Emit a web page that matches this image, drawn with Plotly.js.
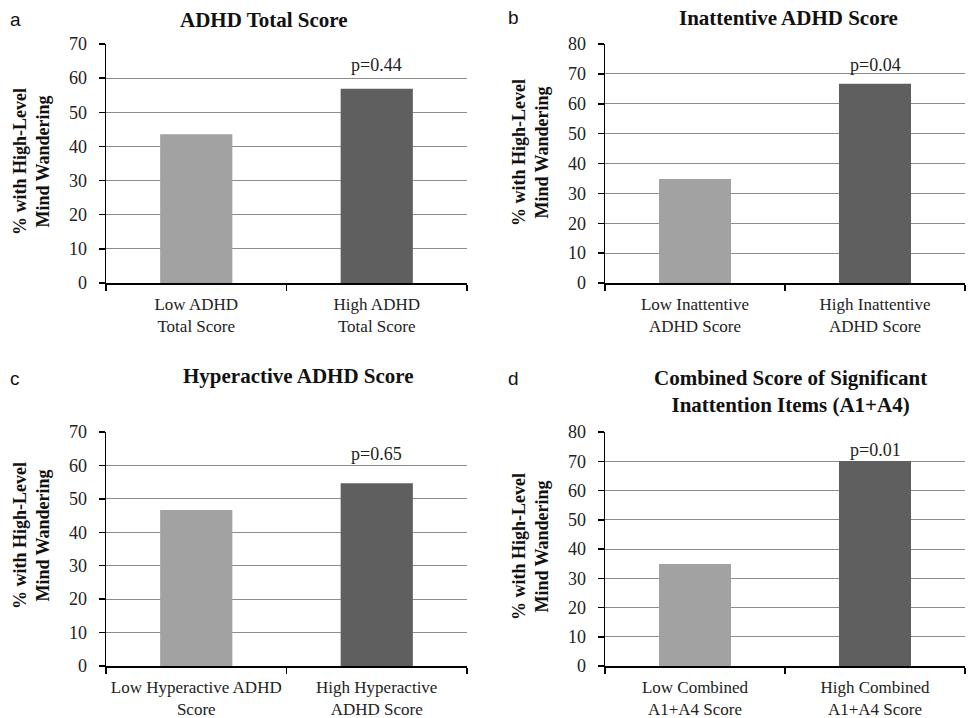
<!DOCTYPE html>
<html>
<head>
<meta charset="utf-8">
<script src="https://cdn.plot.ly/plotly-3.0.1.min.js"></script>
<style>html,body{margin:0;padding:0;background:#fff;}#chart{width:971px;height:718px;}</style>
</head>
<body>
<div id="chart"></div>
<script>
// ---- Data ----
const panelLetters = ["a", "b", "c", "d"];
const panelTitles = [
  "ADHD Total Score",
  "Inattentive ADHD Score",
  "Hyperactive ADHD Score",
  "Combined Score of Significant<br>Inattention Items (A1+A4)"
];
const categoriesA = ["Low ADHD<br>Total Score", "High ADHD<br>Total Score"];
const categoriesB = ["Low Inattentive<br>ADHD Score", "High Inattentive<br>ADHD Score"];
const categoriesC = ["Low Hyperactive ADHD<br>Score", "High Hyperactive<br>ADHD Score"];
const categoriesD = ["Low Combined<br>A1+A4 Score", "High Combined<br>A1+A4 Score"];
const valuesA = [43.6, 56.9];
const valuesB = [34.8, 66.7];
const valuesC = [46.7, 54.7];
const valuesD = [34.9, 70.1];
const pValues = ["p=0.44", "p=0.04", "p=0.65", "p=0.01"];
const pLabelY = [63.9, 73.0, 63.5, 73.9];
const yMax = [70, 80, 70, 80];
const yTitle = "% with High-Level<br>Mind Wandering";

// ---- Layout geometry (pixels) ----
const W = 971, H = 718;
const px = v => v / W;
const py = v => 1 - v / H;
const barColors = ["#a2a2a2", "#5f5f5f"];
const serif = "Liberation Serif, Times New Roman, serif";
const sans = "Liberation Sans, Arial, sans-serif";

const cats = [categoriesA, categoriesB, categoriesC, categoriesD];
const vals = [valuesA, valuesB, valuesC, valuesD];
const boxes = [
  {x0: 106, x1: 467, y0: 44, y1: 283},
  {x0: 605, x1: 965, y0: 44, y1: 283},
  {x0: 106, x1: 467, y0: 432, y1: 666},
  {x0: 605, x1: 965, y0: 432, y1: 666}
];
const titlePos = [{x: 264, y: 20}, {x: 788, y: 18}, {x: 298, y: 376}, {x: 790, y: 391}];
const letterPos = [{x: 15, y: 19}, {x: 513, y: 18}, {x: 15, y: 378}, {x: 513, y: 378}];
const yTitlePos = [{x: 31, y: 162}, {x: 530, y: 153}, {x: 31, y: 536}, {x: 530, y: 547}];

const traces = [];
const layout = {
  width: W, height: H,
  margin: {l: 0, r: 0, t: 0, b: 0},
  paper_bgcolor: "#fff", plot_bgcolor: "#fff",
  showlegend: false,
  annotations: []
};

for (let i = 0; i < 4; i++) {
  const suf = i === 0 ? "" : String(i + 1);
  const xa = "x" + suf, ya = "y" + suf;
  traces.push({
    type: "bar",
    x: cats[i], y: vals[i],
    xaxis: xa, yaxis: ya,
    width: 0.4,
    marker: {color: barColors, line: {width: 0}},
    hoverinfo: "skip"
  });
  const b = boxes[i];
  layout["xaxis" + suf] = {
    domain: [px(b.x0), px(b.x1)],
    anchor: ya,
    type: "category",
    range: [-0.5, 1.5],
    showline: true, linecolor: "#000", linewidth: 1.5,
    ticks: "outside", tickson: "boundaries", ticklen: 6, tickcolor: "#000", tickwidth: 1.5,
    ticklabelstandoff: 5,
    showgrid: false, zeroline: false,
    tickfont: {family: serif, size: 17, color: "#222"},
    fixedrange: true
  };
  layout["yaxis" + suf] = {
    domain: [py(b.y1), py(b.y0)],
    anchor: xa,
    range: [0, yMax[i]],
    dtick: 10, tick0: 0,
    showline: true, linecolor: "#000", linewidth: 1.5,
    ticks: "outside", ticklen: 6, tickcolor: "#000", tickwidth: 1.5,
    ticklabelstandoff: 8,
    showgrid: true, gridcolor: "#8c8c8c", gridwidth: 1,
    zeroline: false,
    tickfont: {family: serif, size: 18, color: "#222"},
    fixedrange: true
  };
  // p-value label
  layout.annotations.push({
    xref: xa, yref: ya, x: cats[i][1], y: pLabelY[i],
    text: pValues[i], showarrow: false,
    xanchor: "center", yanchor: "middle",
    font: {family: serif, size: 18, color: "#222"}
  });
  // panel title
  layout.annotations.push({
    xref: "paper", yref: "paper", x: px(titlePos[i].x), y: py(titlePos[i].y),
    text: "<b>" + panelTitles[i].replace("<br>", "</b><br><b>") + "</b>",
    showarrow: false, xanchor: "center", yanchor: "middle",
    font: {family: serif, size: 21, color: "#111"}
  });
  // panel letter
  layout.annotations.push({
    xref: "paper", yref: "paper", x: px(letterPos[i].x), y: py(letterPos[i].y),
    text: panelLetters[i], showarrow: false, xanchor: "center", yanchor: "middle",
    font: {family: sans, size: 19, color: "#111"}
  });
  // y-axis title
  layout.annotations.push({
    xref: "paper", yref: "paper", x: px(yTitlePos[i].x), y: py(yTitlePos[i].y),
    text: "<b>" + yTitle.replace("<br>", "</b><br><b>") + "</b>",
    showarrow: false, textangle: -90, xanchor: "center", yanchor: "middle",
    font: {family: serif, size: 18, color: "#111"}
  });
}

Plotly.newPlot("chart", traces, layout, {staticPlot: true, displayModeBar: false});
</script>
</body>
</html>
